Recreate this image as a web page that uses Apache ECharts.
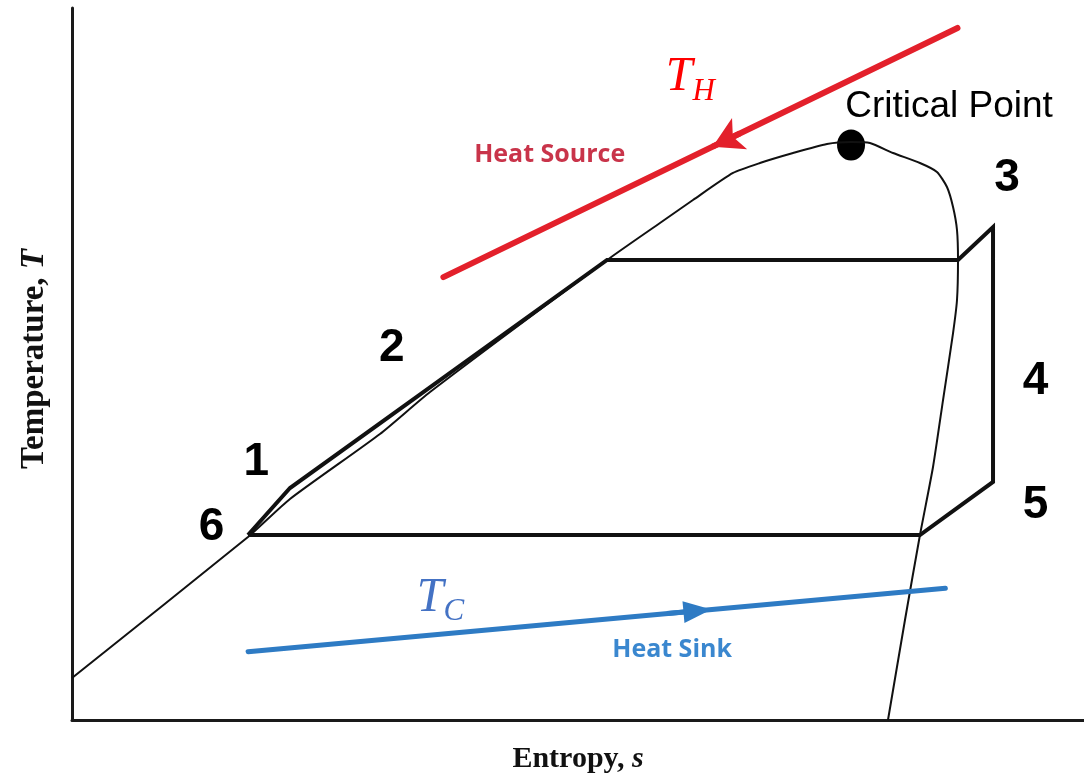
<!DOCTYPE html>
<html><head><meta charset="utf-8">
<script src="https://cdn.jsdelivr.net/npm/echarts@6/dist/echarts.min.js"></script>
<style>html,body{margin:0;padding:0;background:#fff}#c{width:1084px;height:779px}</style>
</head><body><div id="c"></div>
<script>
// Saturation dome (entropy s, temperature T; arbitrary 0–100 units)
const domeS = [0, 17.39, 21.54, 30.43, 35.38, 53.16, 58.10, 61.36, 65.32, 67.98, 71.25, 74.60, 76.98, 78.85, 81.13, 83.79, 85.47, 86.46, 87.06, 87.45, 87.55, 87.45, 87.06, 86.07, 85.08, 83.79, 82.31, 80.63];
const domeT = [5.90, 25.70, 31.04, 40.17, 46.07, 64.89, 69.80, 73.03, 76.83, 78.23, 79.63, 80.90, 81.18, 81.04, 79.63, 78.23, 76.97, 74.86, 72.05, 68.82, 64.61, 58.99, 54.35, 44.94, 35.53, 25.98, 14.04, 0];
// Cycle: 6 -> 1 -> 2 -> 3 -> 4/5 -> 6
const cycleS = [17.39, 21.54, 52.87, 87.55, 91.01, 91.01, 83.79, 17.39];
const cycleT = [25.98, 32.58, 64.61, 64.61, 69.24, 33.43, 25.98, 25.98];
// Heat source (T_H) and heat sink (T_C) lines
const sourceS = [36.7, 87.5];
const sourceT = [62.2, 97.2];
const sourceArrowS = [66.0, 63.3];
const sourceArrowT = [82.39, 80.53];
const sinkS = [17.4, 86.3];
const sinkT = [9.6, 18.5];
const sinkArrowS = [58.8, 61.8];
const sinkArrowT = [14.95, 15.33];
// Critical point
const criticalS = [76.98];
const criticalT = [80.76];
// Annotation texts and anchor positions
const labelNames = ['Critical Point', 'TH', 'Heat Source', 'TC', 'Heat Sink', '1', '2', '3', '4', '5', '6'];
const labelS = [76.4, 61.1, 47.2, 36.4, 59.3, 18.2, 31.6, 92.4, 95.2, 95.2, 13.8];
const labelT = [86.1, 90.2, 79.4, 17.1, 9.8, 36.2, 52.2, 76.1, 47.5, 30.2, 27.0];

const zip = (a, b) => a.map((v, i) => [v, b[i]]);

const digitStyle = {fontFamily: 'Liberation Sans, Arial, sans-serif', fontWeight: 'bold', fontSize: 46, color: '#000'};
const subRich = (color) => ({
  t: {fontFamily: 'Liberation Serif, serif', fontStyle: 'italic', fontSize: 48, color: color},
  h: {fontFamily: 'Liberation Serif, serif', fontStyle: 'italic', fontSize: 31, color: color, padding: [28, 0, 0, 0]}
});
const labelStyles = {
  'Critical Point': {fontFamily: 'Liberation Sans, Arial, sans-serif', fontSize: 37, color: '#000', align: 'left', formatter: 'Critical Point'},
  'TH': {formatter: '{t|T}{h|H}', rich: subRich('#ff0000')},
  'TC': {formatter: '{t|T}{h|C}', rich: subRich('#4472c4')},
  'Heat Source': {fontFamily: 'Open Sans, sans-serif', fontWeight: 'bold', fontSize: 25, color: '#c9344a', formatter: 'Heat Source'},
  'Heat Sink': {fontFamily: 'Open Sans, sans-serif', fontWeight: 'bold', fontSize: 25, color: '#3a87cf', formatter: 'Heat Sink'}
};

const labelData = labelNames.map((n, i) => ({
  name: n,
  value: [labelS[i], labelT[i]],
  label: Object.assign({show: true, position: 'inside', formatter: n}, labelStyles[n] || digitStyle)
}));

const chart = echarts.init(document.getElementById('c'), null, {renderer: 'canvas'});
chart.setOption({
  animation: false,
  backgroundColor: '#fff',
  grid: {left: 72, right: 0, top: 8, bottom: 59},
  xAxis: {
    type: 'value', min: 0, max: 100,
    axisLine: {show: true, lineStyle: {color: '#1a1a1a', width: 3}},
    axisTick: {show: false}, axisLabel: {show: false}, splitLine: {show: false},
    name: '{a|Entropy, }{b|s}', nameLocation: 'middle', nameGap: 24,
    nameTextStyle: {rich: {
      a: {fontFamily: 'Liberation Serif, serif', fontWeight: 'bold', fontSize: 30, color: '#111'},
      b: {fontFamily: 'Liberation Serif, serif', fontWeight: 'bold', fontStyle: 'italic', fontSize: 30, color: '#111'}
    }}
  },
  yAxis: {
    type: 'value', min: 0, max: 100,
    axisLine: {show: true, lineStyle: {color: '#1a1a1a', width: 3}},
    axisTick: {show: false}, axisLabel: {show: false}, splitLine: {show: false},
    name: '{a|Temperature, }{b|T}', nameLocation: 'middle', nameGap: 21,
    nameTextStyle: {padding: [0, 0, 0, 10], rich: {
      a: {fontFamily: 'Liberation Serif, serif', fontWeight: 'bold', fontSize: 33, color: '#111'},
      b: {fontFamily: 'Liberation Serif, serif', fontWeight: 'bold', fontStyle: 'italic', fontSize: 33, color: '#111'}
    }}
  },
  series: [
    {type: 'line', data: zip(domeS, domeT), symbol: 'none', smooth: 0.2, clip: false,
     lineStyle: {color: '#111', width: 2}},
    {type: 'line', data: zip(cycleS, cycleT), symbol: 'none', clip: false,
     lineStyle: {color: '#111', width: 4, join: 'miter'}},
    {type: 'line', data: zip(sourceS, sourceT), symbol: 'none', clip: false,
     lineStyle: {color: '#e3202b', width: 6, cap: 'round'},
     markLine: {silent: true, symbol: ['none', 'arrow'], symbolSize: [26, 30], label: {show: false},
       lineStyle: {color: '#e3202b', width: 6, type: 'solid'},
       data: [[{coord: [sourceArrowS[0], sourceArrowT[0]]}, {coord: [sourceArrowS[1], sourceArrowT[1]]}]]}},
    {type: 'line', data: zip(sinkS, sinkT), symbol: 'none', clip: false,
     lineStyle: {color: '#2e7bc4', width: 5, cap: 'round'},
     markLine: {silent: true, symbol: ['none', 'triangle'], symbolSize: [22, 28], label: {show: false},
       lineStyle: {color: '#2e7bc4', width: 5, type: 'solid'},
       data: [[{coord: [sinkArrowS[0], sinkArrowT[0]]}, {coord: [sinkArrowS[1], sinkArrowT[1]]}]]}},
    {type: 'scatter', data: zip(criticalS, criticalT), symbol: 'circle', symbolSize: [28, 31],
     itemStyle: {color: '#000', opacity: 1}},
    {type: 'scatter', data: labelData, symbolSize: 1, itemStyle: {color: 'rgba(0,0,0,0)', opacity: 1}}
  ]
});
</script>
</body></html>
